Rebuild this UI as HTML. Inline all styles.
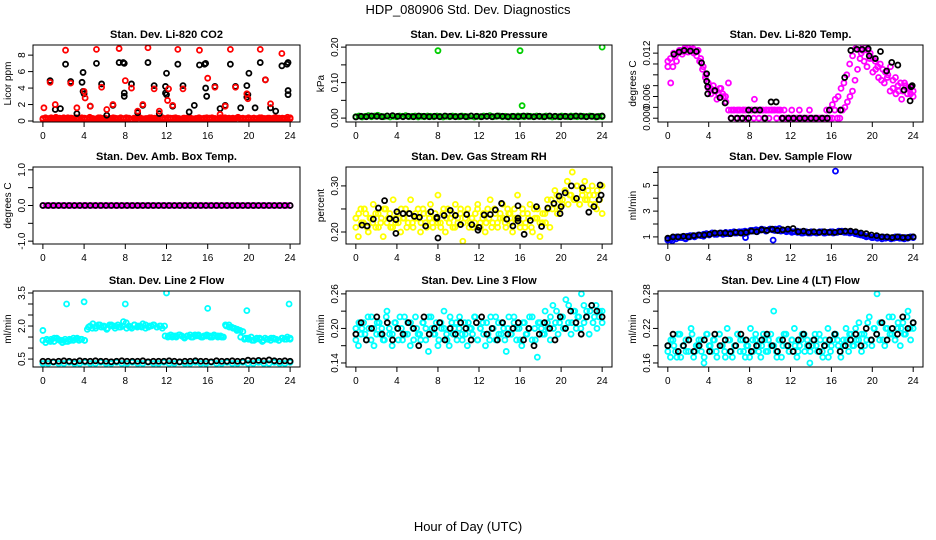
<!DOCTYPE html>
<html><head><meta charset="utf-8"><style>
body{margin:0;background:#fff}
svg{display:block;font-family:"Liberation Sans",sans-serif}
</style></head><body>
<svg id="c" width="936" height="540" viewBox="0 0 936 540">
<text x="468" y="14" text-anchor="middle" font-size="13">HDP_080906  Std. Dev. Diagnostics</text>
<text x="468" y="531" text-anchor="middle" font-size="13">Hour of Day (UTC)</text>
</svg>
<script>
// ---------- data ----------
const xTicks=[0,4,8,12,16,20,24];
// CO2
const co2BlackX=[0.7,1.2,1.7,2.2,2.7,3.3,3.8,3.9,3.9,4.0,4.6,5.2,5.7,6.2,6.8,7.4,7.8,7.9,7.9,7.9,8.6,9.2,9.7,10.2,10.8,11.3,11.9,11.9,12.0,12.0,12.6,13.1,13.6,14.2,14.7,15.2,15.7,15.8,15.8,15.9,16.7,17.2,17.7,18.2,18.7,19.2,19.8,19.8,19.9,20.0,20.6,21.1,21.6,22.1,22.6,23.2,23.7,23.8,23.8,23.8];
const co2BlackY=[4.9,1.4,1.5,6.9,4.8,0.9,4.7,5.9,3.6,3.3,1.8,7.0,4.5,0.7,1.9,7.1,7.1,7.0,3.4,3.0,4.5,1.0,1.9,7.1,4.3,0.9,4.2,3.4,3.2,5.8,1.8,6.9,4.3,1.1,1.9,6.8,6.9,7.0,4.0,3.0,4.2,1.5,1.9,6.9,4.2,1.6,4.3,2.9,3.2,5.8,1.6,7.1,5.0,1.6,1.2,6.7,6.9,7.1,3.7,3.2];
const co2RedX=[0.1,0.7,1.2,2.2,2.7,3.3,4.0,4.1,4.6,5.2,5.7,6.2,6.8,7.4,8.0,8.6,9.2,9.7,10.2,10.8,11.3,12.1,12.2,12.6,13.1,13.6,15.2,16.0,16.7,17.2,17.7,18.2,18.7,19.8,19.9,21.1,21.6,22.1,23.2,24];
const co2RedY=[1.6,4.7,2.0,8.6,4.6,1.6,3.6,2.8,1.8,8.7,4.1,1.4,2.0,8.8,4.9,4.0,1.2,2.0,8.9,3.9,1.2,2.5,3.9,1.9,8.7,3.9,8.6,5.2,4.1,0.8,1.8,8.7,4.1,3.3,2.7,8.7,5.0,2.1,8.2,0.3];
const co2BaseY=[0.3,0.4,0.25,0.35,0.3,0.45,0.2,0.3,0.4,0.3,0.25,0.35,0.3,0.4,0.3,0.2,0.35,0.3,0.45,0.3,0.25,0.3,0.4,0.3,0.35,0.2,0.3,0.4,0.3,0.25,0.35,0.3,0.4,0.3,0.2,0.35,0.3,0.45,0.3,0.25,0.3,0.4,0.3,0.35,0.2,0.3,0.4,0.3,0.25,0.35,0.3,0.4,0.3,0.2,0.35,0.3,0.45,0.3,0.25,0.3,0.4,0.3,0.35,0.2,0.3,0.4,0.3,0.25,0.35,0.3,0.4,0.3,0.2,0.35,0.3,0.45,0.3,0.25,0.3,0.4,0.3,0.35,0.2,0.3,0.4,0.3,0.25,0.35,0.3,0.4,0.3,0.2,0.35,0.3,0.45,0.3];
const co2BaseY2=[0.2,0.35,0.3,0.4,0.25,0.3,0.35,0.2,0.3,0.4,0.35,0.25,0.3,0.2,0.4,0.3,0.25,0.35,0.3,0.2,0.4,0.3,0.35,0.25,0.3,0.2,0.35,0.3,0.4,0.25,0.3,0.35,0.2,0.3,0.4,0.35,0.25,0.3,0.2,0.4,0.3,0.25,0.35,0.3,0.2,0.4,0.3,0.35,0.25,0.3,0.2,0.35,0.3,0.4,0.25,0.3,0.35,0.2,0.3,0.4,0.35,0.25,0.3,0.2,0.4,0.3,0.25,0.35,0.3,0.2,0.4,0.3,0.35,0.25,0.3,0.2,0.35,0.3,0.4,0.25,0.3,0.35,0.2,0.3,0.4,0.35,0.25,0.3,0.2,0.4];
// Pressure
const presGreenY=[0.004,0.006,0.003,0.005,0.007,0.004,0.006,0.008,0.005,0.004,0.006,0.003,0.005,0.004,0.006,0.005,0.007,0.004,0.005,0.006,0.003,0.005,0.004,0.006,0.005,0.004,0.006,0.005,0.003,0.005,0.004,0.006,0.005,0.004,0.006,0.005,0.004,0.006,0.003,0.005,0.004,0.006,0.005,0.007,0.004,0.005,0.006,0.004,0.005,0.003,0.005,0.004,0.006,0.005,0.004,0.006,0.005,0.004,0.006,0.005,0.004,0.006,0.005,0.003,0.005,0.004,0.006,0.005,0.004,0.006,0.005,0.004,0.006,0.005,0.004,0.006,0.005,0.003,0.005,0.004];
const presOutX=[8,16,16.2,24];
const presOutY=[0.19,0.19,0.035,0.2];
const presBlackY=[0.003,0.005,0.004,0.006,0.005,0.004,0.006,0.007,0.005,0.004,0.005,0.004,0.006,0.005,0.004,0.005,0.004,0.006,0.005,0.004,0.005,0.004,0.006,0.005,0.004,0.005,0.004,0.006,0.005,0.004,0.005,0.004,0.006,0.005,0.004,0.005,0.004,0.006,0.005,0.004,0.005,0.004,0.006,0.005,0.004,0.005,0.004,0.006];
// Temp
const tempBlackX=[0.6,1.1,1.6,2.2,2.8,3.3,3.8,3.8,3.9,3.9,4.6,5.1,5.6,6.2,6.8,7.3,7.9,7.9,8.5,9.0,9.5,10.1,10.6,11.2,11.8,12.3,12.9,13.4,14.0,14.5,15.1,15.6,15.8,16.9,17.3,17.9,18.5,19.0,19.6,19.7,20.3,20.8,21.4,21.9,22.5,23.1,23.7,23.8,23.9];
const tempBlackY=[0.0118,0.0122,0.0125,0.0124,0.0123,0.0102,0.0082,0.0068,0.0058,0.0045,0.0051,0.0038,0.0028,0,0,0,0.0015,0,0.0015,0.0015,0,0.003,0.003,0,0,0,0,0,0,0,0,0,0.0015,0.0015,0.0075,0.0125,0.0127,0.0127,0.0128,0.0115,0.011,0.0123,0.0087,0.0103,0.0098,0.0052,0.0032,0.0058,0.006];
const tempMagY=[0.0105,0.011,0.0095,0.0115,0.012,0.0125,0.0123,0.0128,0.013,0.0125,0.0128,0.0122,0.0125,0.011,0.0095,0.008,0.0065,0.0055,0.006,0.005,0.0045,0.0055,0.004,0.003,0.0015,0,0.0015,0,0.0015,0,0.0015,0,0.0015,0.0015,0,0.0015,0,0.0015,0,0.0015,0,0.0015,0.0015,0,0.0015,0,0.0015,0,0,0.0015,0,0,0.0015,0,0,0,0.0015,0,0,0,0,0,0,0,0,0,0.0015,0,0,0.0015,0.002,0.003,0.004,0.005,0.007,0.009,0.011,0.0125,0.013,0.0125,0.012,0.011,0.0105,0.0095,0.01,0.009,0.0085,0.008,0.0095,0.007,0.0075,0.006,0.0065,0.005,0.006,0.0055,0.0045,0.004];
const tempMagY2=[0.0095,0.0065,0.012,0.0105,0.0125,0.0118,0.013,0.0122,0.0127,0.012,0.0115,0.0105,0.009,0.0075,0.0055,0.0045,0.005,0.0035,0.0055,0.0045,0.004,0.0065,0.0015,0.0015,0.0015,0.0015,0.0015,0.0015,0.0015,0.0015,0.0035,0.0015,0.0015,0.0015,0.0015,0.0015,0.0015,0.0015,0.0015,0.0015,0,0,0,0,0,0,0,0,0,0,0,0,0,0,0,0.0015,0.0015,0.0025,0.0035,0.004,0.0055,0.0065,0.008,0.01,0.0115,0.0128,0.0132,0.012,0.0105,0.0095,0.011,0.0085,0.009,0.0075,0.007,0.0065,0.0075,0.005,0.0055,0.0045,0.005,0.0035,0.0065,0.0045,0.0055,0.005];
// Amb box
const ambMagY=[0,0,0,0,0,0,0,0,0,0,0,0,0,0,0,0,0,0,0,0,0,0,0,0,0,0,0,0,0,0,0,0,0,0,0,0,0,0,0,0,0,0,0,0,0,0,0,0,0,0,0,0,0,0,0,0,0,0,0,0,0,0,0,0,0,0,0,0,0,0,0,0,0,0,0,0,0,0,0,0];
const ambBlackY=[0,0,0,0,0,0,0,0,0,0,0,0,0,0,0,0,0,0,0,0,0,0,0,0,0,0,0,0,0,0,0,0,0,0,0,0,0,0,0,0,0,0,0,0,0,0,0,0];
// RH
const rhYellowY=[0.23,0.19,0.25,0.22,0.24,0.2,0.23,0.26,0.21,0.24,0.22,0.19,0.25,0.23,0.21,0.27,0.22,0.24,0.2,0.23,0.25,0.22,0.27,0.21,0.24,0.23,0.2,0.25,0.22,0.24,0.26,0.21,0.23,0.28,0.22,0.24,0.2,0.25,0.23,0.21,0.26,0.22,0.24,0.18,0.23,0.25,0.22,0.21,0.24,0.26,0.22,0.23,0.2,0.25,0.27,0.22,0.24,0.21,0.23,0.26,0.22,0.25,0.24,0.2,0.23,0.28,0.22,0.25,0.21,0.24,0.26,0.2,0.23,0.25,0.19,0.22,0.24,0.27,0.21,0.25,0.29,0.24,0.27,0.26,0.29,0.31,0.28,0.33,0.27,0.3,0.26,0.29,0.31,0.27,0.28,0.3,0.26,0.29,0.27,0.24];
const rhYellowY2=[0.21,0.24,0.22,0.25,0.21,0.23,0.22,0.24,0.21,0.23,0.25,0.22,0.24,0.21,0.23,0.22,0.25,0.23,0.21,0.24,0.22,0.23,0.25,0.22,0.24,0.21,0.23,0.22,0.24,0.22,0.21,0.25,0.23,0.22,0.24,0.21,0.23,0.25,0.22,0.24,0.21,0.23,0.22,0.25,0.21,0.24,0.22,0.23,0.21,0.25,0.22,0.24,0.23,0.21,0.24,0.22,0.25,0.23,0.21,0.24,0.22,0.23,0.21,0.25,0.23,0.22,0.24,0.22,0.25,0.27,0.26,0.28,0.25,0.27,0.29,0.26,0.28,0.27,0.3,0.26,0.28,0.27,0.29,0.26,0.28,0.25,0.27,0.3];
const rhBlackX=[0.6,1.1,1.7,2.2,2.8,3.3,3.9,3.9,4.0,4.6,5.2,5.7,6.2,6.8,7.3,7.9,7.9,8.0,8.6,9.2,9.7,10.2,10.8,11.3,11.9,12.0,12.5,13.1,13.6,14.2,14.7,15.3,15.8,15.8,15.8,16.4,17.0,17.6,18.1,18.7,19.3,19.8,19.9,20.0,20.4,21.0,21.5,22.1,22.7,23.2,23.7,23.8,23.9];
const rhBlackY=[0.215,0.213,0.228,0.252,0.268,0.229,0.197,0.227,0.244,0.24,0.24,0.234,0.232,0.213,0.244,0.232,0.23,0.187,0.236,0.247,0.236,0.216,0.238,0.216,0.204,0.21,0.237,0.238,0.248,0.262,0.228,0.213,0.257,0.23,0.224,0.195,0.225,0.255,0.212,0.252,0.262,0.278,0.24,0.255,0.285,0.3,0.273,0.296,0.243,0.255,0.27,0.302,0.28];
// Sample flow
const sfBlueY=[0.75,0.8,0.9,0.85,0.95,1.0,0.9,1.05,1.0,1.1,1.05,1.15,1.1,1.2,1.25,1.15,1.3,1.2,1.25,1.3,1.2,1.35,1.25,1.3,1.4,1.3,1.35,1.4,1.45,1.35,1.5,1.45,1.55,1.5,1.6,1.55,1.5,1.6,1.55,1.6,1.5,1.45,1.5,1.4,1.45,1.35,1.4,1.35,1.4,1.3,1.35,1.3,1.4,1.35,1.3,1.35,1.4,1.3,1.35,1.4,1.3,1.35,1.45,1.4,1.35,1.4,1.3,1.35,1.25,1.2,1.15,1.1,1.0,1.05,0.95,1.0,0.9,0.95,1.0,0.9,0.95,0.85,0.9,0.95,1.0,0.9,0.95,0.9,1.0,0.95];
const sfBlueY2=[0.85,0.7,1.0,0.95,0.85,1.1,1.0,1.15,1.05,1.2,1.3,1.2,1.3,1.25,1.35,1.3,1.4,1.25,1.4,1.5,1.4,1.55,1.45,1.6,1.5,1.65,1.5,1.45,1.4,1.45,1.3,1.4,1.3,1.35,1.4,1.3,1.35,1.4,1.35,1.45,1.35,1.4,1.3,1.2,1.1,1.05,0.95,1.05,0.85,0.95,0.9,1.0,0.9,0.85,0.95,1.0];
const sfOutX=[7.6,10.3,16.4];
const sfOutY=[0.95,0.75,6.1];
const sfBlackY=[0.9,1.0,1.0,1.05,1.0,1.1,1.15,1.15,1.2,1.3,1.3,1.3,1.25,1.35,1.3,1.35,1.45,1.4,1.55,1.5,1.6,1.5,1.55,1.6,1.65,1.4,1.45,1.35,1.4,1.35,1.4,1.35,1.35,1.4,1.45,1.45,1.4,1.3,1.25,1.15,1.1,1.0,1.0,0.95,1.0,0.95,0.95,1.0];
// Line 2
const l2CyanY=[1.8,1.25,1.35,1.4,1.3,1.45,1.35,1.25,1.4,1.3,1.35,1.45,1.4,1.35,1.4,1.35,1.85,2.0,2.1,1.9,2.05,1.95,2.0,1.85,2.05,2.0,1.9,2.05,1.95,2.2,2.15,2.0,1.9,2.05,1.95,2.0,2.1,2.05,1.95,2.0,2.05,1.95,2.0,1.9,1.55,1.5,1.6,1.55,1.5,1.6,1.55,1.45,1.55,1.6,1.5,1.55,1.6,1.5,1.55,1.6,1.55,1.5,1.55,1.5,1.55,1.5,2.0,2.05,1.95,1.9,1.85,1.8,1.75,1.45,1.4,1.5,1.35,1.45,1.4,1.3,1.45,1.4,1.35,1.45,1.4,1.35,1.45,1.4,1.5,1.4];
const l2CyanY2=[1.35,1.4,1.3,1.45,1.4,1.35,1.3,1.4,1.35,1.45,1.4,1.35,1.95,1.9,2.0,2.05,1.95,1.9,2.05,2.0,1.95,2.0,1.9,1.95,2.05,2.0,1.95,1.9,2.0,2.05,1.95,2.0,2.0,1.55,1.5,1.55,1.6,1.5,1.55,1.5,1.6,1.55,1.5,1.55,1.5,1.6,1.55,1.5,2.05,1.95,1.9,1.8,1.5,1.4,1.45,1.35,1.4,1.45,1.35,1.4,1.45,1.4,1.35,1.45,1.4,1.45];
const l2OutX=[2.3,4.0,8.0,12.0,16.0,19.8,23.9];
const l2OutY=[3.0,3.1,3.0,3.5,2.8,2.7,3.0];
const l2LowY=[0.3,0.3,0.35,0.3,0.3,0.35,0.3,0.3,0.35,0.3,0.3,0.35,0.3,0.3,0.35,0.3,0.3,0.35,0.3,0.3,0.35,0.3,0.3,0.35,0.3,0.3,0.35,0.3,0.3,0.35,0.3,0.3,0.35,0.3,0.3,0.35,0.3,0.3,0.35,0.3,0.3,0.35,0.3,0.3,0.35,0.3,0.3,0.35];
const l2BlackY=[0.4,0.4,0.38,0.4,0.42,0.4,0.38,0.42,0.4,0.4,0.42,0.4,0.4,0.38,0.4,0.42,0.4,0.4,0.4,0.42,0.38,0.4,0.4,0.4,0.42,0.4,0.38,0.4,0.4,0.42,0.4,0.4,0.38,0.42,0.4,0.4,0.42,0.4,0.4,0.45,0.42,0.44,0.42,0.46,0.42,0.4,0.42,0.4];
// Line 3
const l3CyanY=[0.2,0.17,0.19,0.21,0.18,0.2,0.22,0.17,0.19,0.21,0.2,0.18,0.23,0.19,0.17,0.21,0.2,0.22,0.18,0.19,0.21,0.17,0.2,0.22,0.19,0.18,0.21,0.2,0.16,0.22,0.19,0.21,0.18,0.2,0.23,0.19,0.17,0.21,0.2,0.18,0.22,0.19,0.21,0.17,0.2,0.19,0.22,0.18,0.2,0.21,0.17,0.19,0.22,0.2,0.18,0.21,0.19,0.2,0.16,0.22,0.19,0.21,0.18,0.2,0.17,0.21,0.19,0.22,0.18,0.2,0.15,0.21,0.19,0.23,0.2,0.18,0.24,0.21,0.19,0.22,0.2,0.25,0.21,0.19,0.23,0.2,0.22,0.26,0.21,0.23,0.19,0.24,0.22,0.2,0.23,0.21];
const l3CyanY2=[0.18,0.21,0.2,0.19,0.22,0.18,0.2,0.21,0.19,0.18,0.22,0.2,0.19,0.21,0.18,0.2,0.22,0.19,0.21,0.18,0.2,0.19,0.21,0.18,0.22,0.2,0.19,0.17,0.21,0.2,0.18,0.22,0.19,0.21,0.2,0.18,0.19,0.21,0.2,0.22,0.18,0.2,0.19,0.21,0.18,0.2,0.22,0.19,0.21,0.18,0.2,0.19,0.22,0.2,0.18,0.21,0.19,0.2,0.22,0.18,0.21,0.2,0.19,0.21,0.22,0.2,0.23,0.21,0.22,0.2,0.24,0.21,0.23,0.22,0.2,0.24,0.22,0.23,0.21,0.24,0.22,0.23];
const l3BlackY=[0.19,0.21,0.18,0.2,0.22,0.19,0.21,0.18,0.2,0.19,0.21,0.2,0.17,0.22,0.19,0.2,0.21,0.18,0.2,0.19,0.21,0.2,0.18,0.21,0.22,0.19,0.2,0.18,0.21,0.19,0.2,0.21,0.18,0.2,0.17,0.19,0.21,0.2,0.18,0.22,0.2,0.23,0.21,0.19,0.22,0.24,0.23,0.22];
// Line 4
const l4CyanY=[0.19,0.17,0.2,0.18,0.21,0.17,0.19,0.2,0.18,0.22,0.17,0.19,0.2,0.18,0.16,0.21,0.19,0.18,0.2,0.17,0.21,0.19,0.18,0.22,0.2,0.17,0.19,0.21,0.18,0.2,0.17,0.19,0.22,0.18,0.2,0.19,0.17,0.21,0.18,0.2,0.19,0.25,0.18,0.2,0.17,0.21,0.19,0.18,0.2,0.22,0.17,0.19,0.21,0.18,0.2,0.16,0.19,0.21,0.18,0.2,0.17,0.19,0.22,0.18,0.2,0.21,0.19,0.17,0.2,0.22,0.18,0.21,0.19,0.2,0.23,0.18,0.21,0.2,0.24,0.19,0.22,0.28,0.2,0.23,0.19,0.22,0.21,0.24,0.2,0.22,0.19,0.23,0.21,0.25,0.2,0.22];
const l4CyanY2=[0.18,0.2,0.19,0.17,0.21,0.19,0.18,0.2,0.21,0.18,0.19,0.2,0.17,0.21,0.19,0.2,0.18,0.21,0.19,0.17,0.2,0.18,0.19,0.21,0.2,0.18,0.19,0.17,0.2,0.21,0.18,0.19,0.2,0.18,0.21,0.19,0.17,0.2,0.19,0.21,0.18,0.2,0.19,0.18,0.2,0.21,0.19,0.18,0.2,0.19,0.21,0.18,0.2,0.17,0.19,0.21,0.2,0.18,0.19,0.2,0.21,0.19,0.22,0.2,0.21,0.19,0.23,0.2,0.22,0.21,0.23,0.2,0.22,0.24,0.21,0.2,0.23,0.22,0.21,0.24,0.22,0.23];
const l4BlackY=[0.19,0.21,0.18,0.19,0.2,0.18,0.19,0.2,0.18,0.21,0.19,0.2,0.18,0.19,0.21,0.2,0.18,0.19,0.2,0.21,0.19,0.18,0.2,0.19,0.18,0.2,0.21,0.19,0.2,0.18,0.19,0.2,0.21,0.18,0.19,0.2,0.21,0.19,0.22,0.2,0.21,0.23,0.2,0.22,0.21,0.24,0.22,0.23];

// ---------- drawing ----------
const NS='http://www.w3.org/2000/svg';
const svg=document.getElementById('c');
function mk(tag,attrs,parent){const e=document.createElementNS(NS,tag);for(const k in attrs)e.setAttribute(k,attrs[k]);(parent||svg).appendChild(e);return e;}
const cols=[[33,300],[346,612],[658,923]];
const rows=[[45,122],[167,244],[291,367]];
const evenX=ys=>ys.map((_,i)=>i*24/(ys.length-1));
function panel(c,r,title,ylab,ydom,yticks,ylabels,series,key){
  const [x0,x1]=cols[c],[y0,y1]=rows[r];
  const g=mk('g',{});
  
  
  const sx=v=>x0+(v+0.96)/25.92*(x1-x0);
  const sy=v=>y1-(v-ydom[0])/(ydom[1]-ydom[0])*(y1-y0);
  const t=mk('text',{x:(x0+x1)/2,y:y0-7,'text-anchor':'middle','font-size':11,'font-weight':'bold'},g);
  t.textContent=title;
  const yl=mk('text',{x:0,y:0,'text-anchor':'middle','font-size':10,transform:`translate(${x0-22},${(y0+y1)/2}) rotate(-90)`},g);
  yl.textContent=ylab;
  const clip='clip'+key;
  const cp=mk('clipPath',{id:clip},g);mk('rect',{x:x0,y:y0,width:x1-x0,height:y1-y0},cp);
  const pg=mk('g',{'clip-path':`url(#${clip})`},g);
  series.forEach(s=>{
    const xs=s.xs||evenX(s.ys);
    s.ys.forEach((v,i)=>{
      const p=mk('circle',{cx:sx(xs[i]),cy:sy(v),r:2.5,fill:'none',stroke:s.color,'stroke-width':1.8},pg);
      
      
    });
  });
  const box=mk('rect',{x:x0,y:y0,width:x1-x0,height:y1-y0,fill:'none',stroke:'#000','stroke-width':1},g);
  
  mk('line',{x1:sx(0),x2:sx(24),y1:y1,y2:y1,stroke:'#000'},g);
  xTicks.forEach(v=>{
    mk('line',{x1:sx(v),x2:sx(v),y1:y1,y2:y1+5,stroke:'#000'},g);
    const tl=mk('text',{x:sx(v),y:y1+17,'text-anchor':'middle','font-size':10},g);
    tl.textContent=v;
  });
  mk('line',{x1:x0,x2:x0,y1:sy(yticks[0]),y2:sy(yticks[yticks.length-1]),stroke:'#000'},g);
  yticks.forEach((v,i)=>{
    mk('line',{x1:x0-5,x2:x0,y1:sy(v),y2:sy(v),stroke:'#000'},g);
    if(ylabels[i]!==''){
      const tl=mk('text',{x:0,y:0,'text-anchor':'middle','font-size':10,transform:`translate(${x0-8},${sy(v)}) rotate(-90)`},g);
      tl.textContent=ylabels[i];
    }
  });
}
panel(0,0,'Stan. Dev. Li-820 CO2','Licor ppm',[-0.12,9.23],[0,2,4,6,8],['0','2','4','6','8'],
 [{ys:co2BaseY,color:'#ff0000'},{ys:co2BaseY2,color:'#ff0000'},{xs:co2BlackX,ys:co2BlackY,color:'#000'},{xs:co2RedX,ys:co2RedY,color:'#ff0000'}],'co2');
panel(1,0,'Stan. Dev. Li-820 Pressure','kPa',[-0.011,0.206],[0,0.05,0.1,0.15,0.2],['0.00','','0.10','','0.20'],
 [{ys:presGreenY,color:'#00cd00'},{ys:presBlackY,color:'#000'},{xs:presOutX,ys:presOutY,color:'#00cd00'}],'pressure');
panel(2,0,'Stan. Dev. Li-820 Temp.','degrees C',[-0.0007,0.0135],[0,0.002,0.004,0.006,0.008,0.01,0.012],['0.000','','0.006','','','','0.012'],
 [{ys:tempMagY,color:'#ff00ff'},{ys:tempMagY2,color:'#ff00ff'},{xs:tempBlackX,ys:tempBlackY,color:'#000'}],'temp');
panel(0,1,'Stan. Dev. Amb. Box Temp.','degrees C',[-1.08,1.08],[-1,-0.5,0,0.5,1],['-1.0','','0.0','','1.0'],
 [{ys:ambMagY,color:'#ff00ff'},{ys:ambBlackY,color:'#000'}],'ambbox');
panel(1,1,'Stan. Dev. Gas Stream RH','percent',[0.174,0.341],[0.2,0.25,0.3],['0.20','','0.30'],
 [{ys:rhYellowY,color:'#ffff00'},{ys:rhYellowY2,color:'#ffff00'},{xs:rhBlackX,ys:rhBlackY,color:'#000'}],'rh');
panel(2,1,'Stan. Dev. Sample Flow','ml/min',[0.45,6.42],[1,2,3,4,5,6],['1','','3','','5',''],
 [{ys:sfBlueY,color:'#0000ff'},{ys:sfBlueY2,color:'#0000ff'},{xs:sfOutX,ys:sfOutY,color:'#0000ff'},{ys:sfBlackY,color:'#000'}],'sampleflow');
panel(0,2,'Stan. Dev. Line 2 Flow','ml/min',[0.14,3.59],[0.5,1,1.5,2,2.5,3,3.5],['0.5','','','2.0','','','3.5'],
 [{ys:l2CyanY,color:'#00ffff'},{ys:l2CyanY2,color:'#00ffff'},{xs:l2OutX,ys:l2OutY,color:'#00ffff'},{ys:l2LowY,color:'#00ffff'},{ys:l2BlackY,color:'#000'}],'line2');
panel(1,2,'Stan. Dev. Line 3 Flow','ml/min',[0.133,0.265],[0.14,0.17,0.2,0.23,0.26],['0.14','','0.20','','0.26'],
 [{ys:l3CyanY,color:'#00ffff'},{ys:l3CyanY2,color:'#00ffff'},{ys:l3BlackY,color:'#000'}],'line3');
panel(2,2,'Stan. Dev. Line 4 (LT) Flow','ml/min',[0.153,0.285],[0.16,0.19,0.22,0.25,0.28],['0.16','','0.22','','0.28'],
 [{ys:l4CyanY,color:'#00ffff'},{ys:l4CyanY2,color:'#00ffff'},{ys:l4BlackY,color:'#000'}],'line4');
</script>
</body></html>
